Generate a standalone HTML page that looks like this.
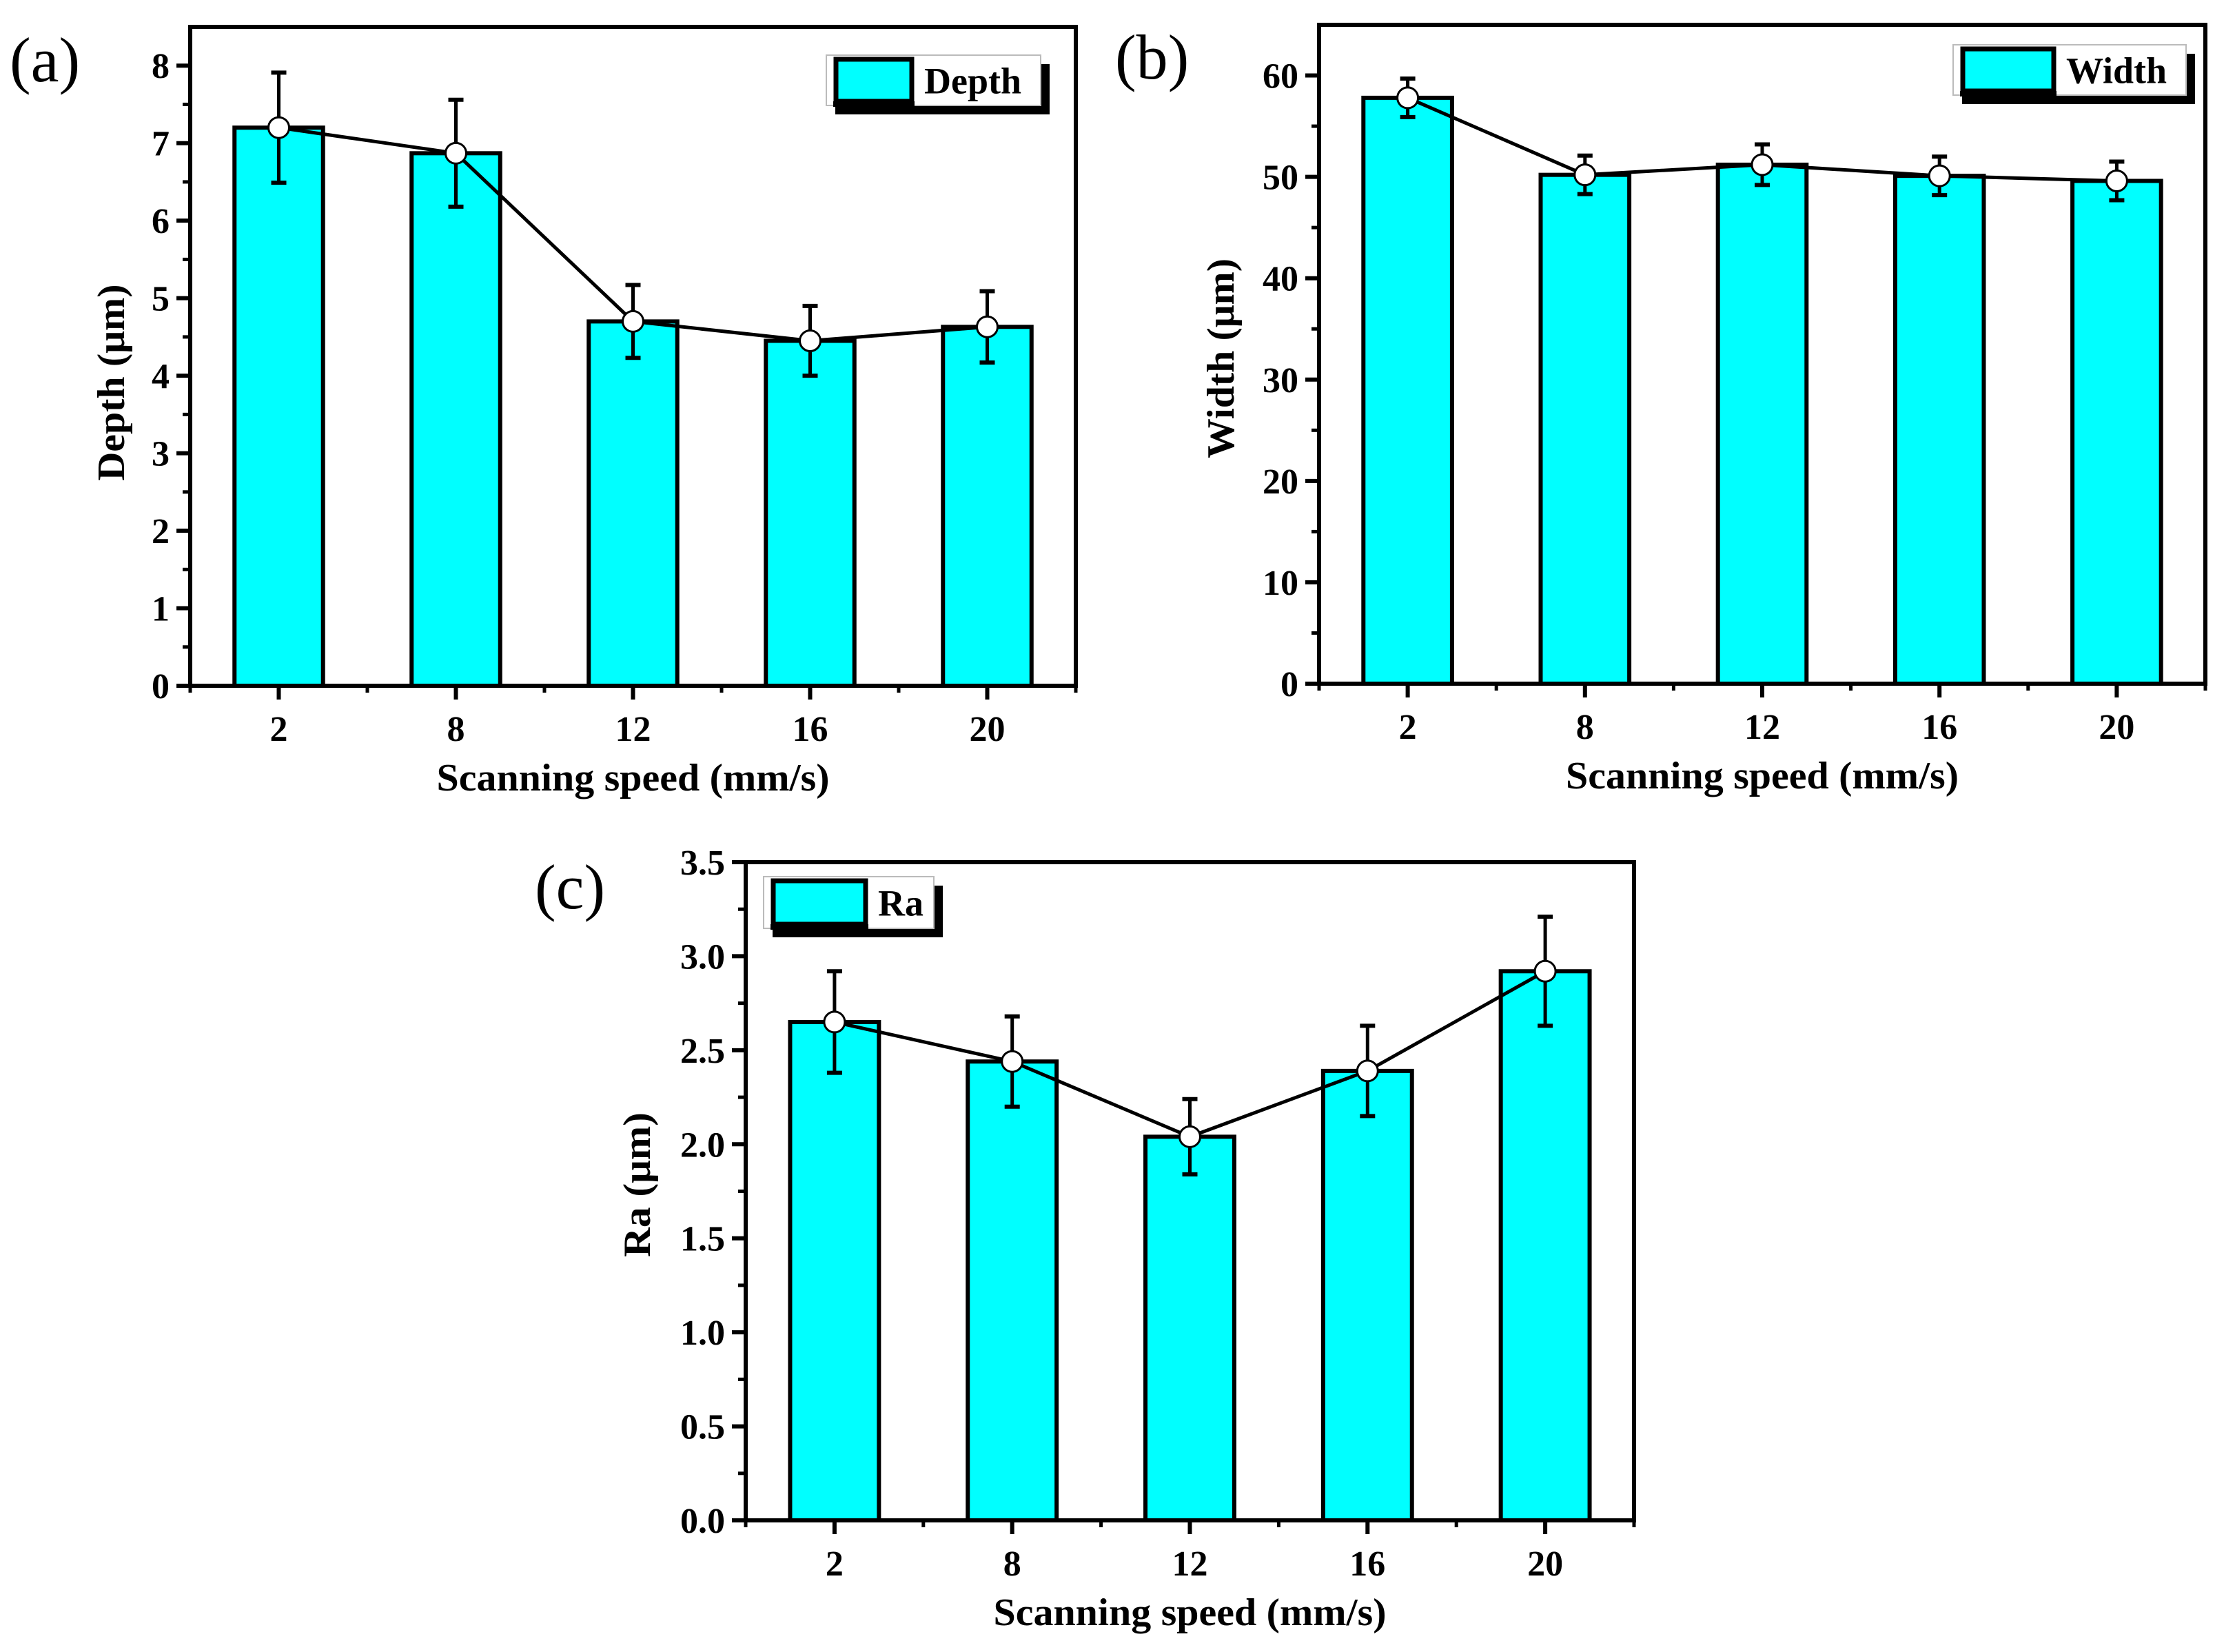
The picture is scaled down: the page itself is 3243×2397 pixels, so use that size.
<!DOCTYPE html>
<html><head><meta charset="utf-8"><style>
html,body{margin:0;padding:0;background:#fff;}
svg{display:block;}
text{font-family:"Liberation Serif",serif;font-weight:bold;fill:#000;}
</style></head><body>
<svg id="chart" width="3243" height="2397" viewBox="0 0 3243 2397" xmlns="http://www.w3.org/2000/svg">
<text x="14" y="118" font-size="92" font-weight="normal" style="font-weight:normal">(a)</text>
<text x="1618" y="114" font-size="92" style="font-weight:normal">(b)</text>
<text x="776" y="1318" font-size="92" style="font-weight:normal">(c)</text>
</svg>
<script>
const categories = ["2","8","12","16","20"];
const depthValues = [7.2, 6.87, 4.7, 4.45, 4.63];
const depthErrors = [0.71, 0.69, 0.47, 0.45, 0.46];
const depthTicks = [0,1,2,3,4,5,6,7,8];
const widthValues = [57.8, 50.2, 51.2, 50.1, 49.6];
const widthErrors = [1.9, 1.9, 2.0, 1.9, 1.9];
const widthTicks = [0,10,20,30,40,50,60];
const raValues = [2.65, 2.44, 2.04, 2.39, 2.92];
const raErrors = [0.27, 0.24, 0.20, 0.24, 0.29];
const raTicks = ["0.0","0.5","1.0","1.5","2.0","2.5","3.0","3.5"];

const NS = "http://www.w3.org/2000/svg";
const svg = document.getElementById("chart");
function mk(tag, attrs, parent){ const e=document.createElementNS(NS,tag); for(const k in attrs) e.setAttribute(k,attrs[k]); (parent||svg).appendChild(e); return e; }

function panel(p){
  const g = mk("g",{});
  
  
  const {L,R,T,B,ymax} = p;
  const unit = (R-L)/categories.length;
  const x = i => L + unit*(i+0.5);
  const y = v => B - (v/ymax)*(B-T);
  // bars
  p.values.forEach((v,i)=>{
    const r = mk("rect",{x:x(i)-unit*0.25,y:y(v),width:unit*0.5,height:B-y(v),fill:"#00ffff",stroke:"#000","stroke-width":6},g);
    
    
  });
  // line
  const pts = p.values.map((v,i)=>x(i)+","+y(v)).join(" ");
  const pl = mk("polyline",{points:pts,fill:"none",stroke:"#000","stroke-width":5},g);
  
  
  // error bars
  p.values.forEach((v,i)=>{
    const e=p.errors[i], cx=x(i);
    const eg = mk("g",{stroke:"#000","stroke-width":5},g);
    
    
    mk("line",{x1:cx,x2:cx,y1:y(v+e),y2:y(v-e)},eg);
    mk("line",{x1:cx-11,x2:cx+11,y1:y(v+e),y2:y(v+e),"stroke-width":6},eg);
    mk("line",{x1:cx-11,x2:cx+11,y1:y(v-e),y2:y(v-e),"stroke-width":6},eg);
  });
  p.values.forEach((v,i)=>{
    const c = mk("circle",{cx:x(i),cy:y(v),r:15,fill:"#fff",stroke:"#000","stroke-width":3},g);
    
    
  });
  // frame
  const fr = mk("rect",{x:L,y:T,width:R-L,height:B-T,fill:"none",stroke:"#000","stroke-width":6},g);
  
  
  // y ticks
  p.ticks.forEach(t=>{
    const v=parseFloat(t), yy=y(v);
    mk("line",{x1:L-20,x2:L,y1:yy,y2:yy,stroke:"#000","stroke-width":6},g);
    const tx = mk("text",{x:L-30,y:yy+18,"font-size":52,"text-anchor":"end"},g);
    tx.textContent = t;
    
    
  });
  for(let v=p.minor; v<ymax; v+=p.minor*2){
    mk("line",{x1:L-11,x2:L,y1:y(v),y2:y(v),stroke:"#000","stroke-width":5},g);
  }
  // x ticks
  categories.forEach((c,i)=>{
    mk("line",{x1:x(i),x2:x(i),y1:B,y2:B+20,stroke:"#000","stroke-width":6},g);
    mk("line",{x1:x(i)-unit/2,x2:x(i)-unit/2,y1:B,y2:B+10,stroke:"#000","stroke-width":5},g);
    const tx = mk("text",{x:x(i),y:B+80,"font-size":52,"text-anchor":"middle"},g);
    tx.textContent = c;
    
    
  });
  mk("line",{x1:R,x2:R,y1:B,y2:B+10,stroke:"#000","stroke-width":5},g);
  const xt = mk("text",{x:(L+R)/2,y:B+152,"font-size":56,"text-anchor":"middle",textLength:570,lengthAdjust:"spacingAndGlyphs"},g);
  xt.textContent = "Scanning speed (mm/s)";
  
  
  const yt = mk("text",{x:0,y:0,"font-size":56,"text-anchor":"middle",transform:`translate(${p.ytx},${p.yty}) rotate(-90)`,textLength:p.ytlen,lengthAdjust:"spacingAndGlyphs"},g);
  yt.textContent = p.ytitle;
  
  
  // legend
  const lg = mk("g",{},g);
  
  
  const [lx,ly,lw,lh] = p.leg;
  mk("rect",{x:lx+13,y:ly+13,width:lw,height:lh,fill:"#000"},lg);
  mk("rect",{x:lx,y:ly,width:lw,height:lh,fill:"#fff",stroke:"#bbb","stroke-width":2},lg);
  mk("rect",{x:lx+14,y:ly+6,width:p.sw,height:lh-12,fill:"#00ffff",stroke:"#000","stroke-width":7},lg);
  mk("rect",{x:lx+10,y:ly+lh-6,width:p.sw+8,height:8,fill:"#000"},lg);
  const lt = mk("text",{x:lx+p.sw+32,y:ly+lh/2+19,"font-size":54},lg);
  lt.textContent = p.label;
}

panel({id:"depth",L:276,R:1561,T:39,B:995,ymax:8.5,values:depthValues,errors:depthErrors,ticks:depthTicks.map(String),minor:0.5,
  ytitle:"Depth (μm)",ytx:180,yty:555,ytlen:285,leg:[1199,80,311,73],sw:110,label:"Depth"});
panel({id:"width",L:1914,R:3200,T:36,B:992,ymax:65,values:widthValues,errors:widthErrors,ticks:widthTicks.map(String),minor:5,
  ytitle:"Width (μm)",ytx:1790,yty:520,ytlen:290,leg:[2834,65,338,73],sw:132,label:"Width"});
panel({id:"ra",L:1082,R:2371,T:1251,B:2206,ymax:3.5,values:raValues,errors:raErrors,ticks:raTicks,minor:0.25,
  ytitle:"Ra (μm)",ytx:943,yty:1719,ytlen:210,leg:[1108,1272,247,75],sw:134,label:"Ra"});
</script>
</body></html>
